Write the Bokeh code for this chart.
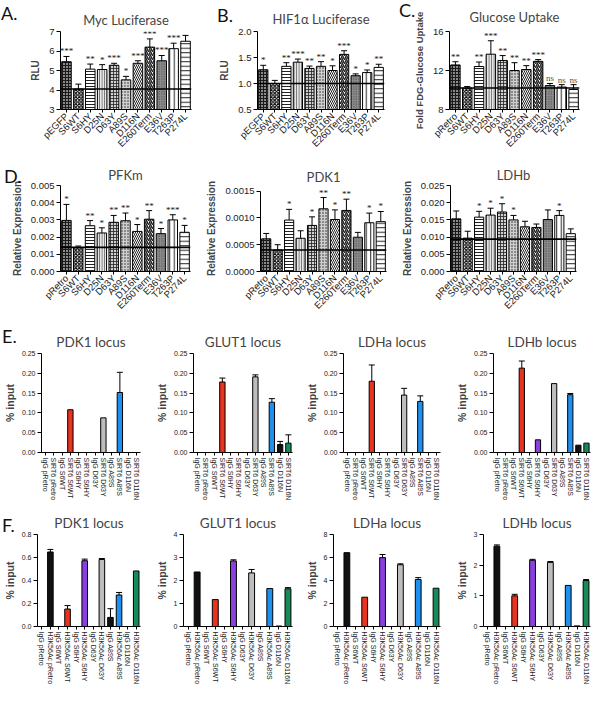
import math
from bokeh.plotting import figure
from bokeh.layouts import row, column
from bokeh.models import (ColumnDataSource, Whisker, TeeHead, Span, LabelSet, Div,
                          FactorRange, Range1d, FixedTicker, NumeralTickFormatter)
from bokeh.embed import file_html
from bokeh.resources import INLINE

# ---------------- data ----------------
samples_egfp = ["pEGFP", "S6WT", "S6HY", "D25N", "D63Y", "A89S", "D116N", "E260Term", "E36V", "T263P", "P274L"]
samples_retro = ["pRetro", "S6WT", "S6HY", "D25N", "D63Y", "A89S", "D116N", "E260Term", "E36V", "T263P", "P274L"]

myc_rlu = [5.45, 4.05, 5.07, 5.05, 5.27, 4.52, 5.37, 6.2, 5.5, 6.12, 6.5]
myc_err = [0.27, 0.25, 0.26, 0.25, 0.1, 0.18, 0.13, 0.42, 0.27, 0.28, 0.3]
myc_sig = ["***", "", "**", "*", "***", "*", "***", "***", "***", "***", "***"]
myc_ref = 4.05
myc_ticks = [3, 4, 5, 6, 7]

hif_rlu = [1.265, 1.0, 1.33, 1.41, 1.29, 1.33, 1.25, 1.56, 1.15, 1.21, 1.31]
hif_err = [0.085, 0.06, 0.07, 0.06, 0.045, 0.09, 0.09, 0.07, 0.035, 0.05, 0.06]
hif_sig = ["*", "", "**", "***", "**", "**", "*", "***", "*", "*", "**"]
hif_ref = 1.0
hif_ticks = [0.5, 1.0, 1.5, 2.0]

glu_fold = [12.57, 10.2, 12.41, 13.67, 13.03, 12.0, 12.1, 12.94, 10.45, 10.3, 10.05]
glu_err = [0.33, 0.16, 0.46, 1.38, 0.5, 0.8, 0.4, 0.18, 0.22, 0.25, 0.5]
glu_sig = ["**", "", "**", "***", "**", "**", "**", "***", "ns", "ns", "ns"]
glu_ref = 10.2
glu_ticks = [8, 12, 16]

pfkm_expr = [0.00297, 0.00138, 0.00266, 0.00224, 0.00286, 0.00295, 0.00233, 0.00304, 0.0022, 0.0030, 0.00228]
pfkm_err = [0.00093, 0.0001, 0.0003, 0.0003, 0.0004, 0.00045, 0.0004, 0.0005, 0.0003, 0.0003, 0.0004]
pfkm_sig = ["*", "", "**", "*", "**", "**", "*", "**", "*", "***", "*"]
pfkm_ref = 0.0014
pfkm_ticks = [0.0, 0.001, 0.002, 0.003, 0.004, 0.005]

pdk1_expr = [0.00061, 0.0004, 0.00096, 0.00062, 0.00086, 0.00117, 0.00097, 0.00114, 0.00064, 0.00091, 0.00093]
pdk1_err = [0.0001, 0.0001, 0.0002, 0.00014, 0.00016, 0.00021, 0.00018, 0.00021, 0.00009, 0.00018, 0.00019]
pdk1_sig = ["", "", "*", "", "*", "**", "*", "**", "", "*", "*"]
pdk1_ref = 0.0004
pdk1_ticks = [0.0, 0.0005, 0.001, 0.0015]

ldhb_expr = [0.0153, 0.0097, 0.0158, 0.0164, 0.0173, 0.0150, 0.0130, 0.0128, 0.0151, 0.0163, 0.0110]
ldhb_err = [0.0023, 0.0020, 0.0017, 0.0020, 0.0024, 0.0013, 0.0016, 0.0010, 0.0028, 0.0014, 0.0014]
ldhb_sig = ["", "", "*", "*", "*", "*", "", "", "", "*", ""]
ldhb_ref = 0.0094
ldhb_ticks = [0.0, 0.005, 0.010, 0.015, 0.020, 0.025]

chip_sirt6 = ["IgG pRetro", "SIRT6 pRetro", "IgG S6WT", "SIRT6 S6WT", "IgG S6HY", "SIRT6 S6HY",
              "IgG D63Y", "SIRT6 D63Y", "IgG A89S", "SIRT6 A89S", "IgG D116N", "SIRT6 D116N"]
chip_h3k56 = ["IgG pRetro", "H3K56Ac pRetro", "IgG S6WT", "H3K56Ac S6WT", "IgG S6HY", "H3K56Ac S6HY",
              "IgG D63Y", "H3K56Ac D63Y", "IgG A89S", "H3K56Ac A89S", "IgG D116N", "H3K56Ac D116N"]

e_pdk1 = [0, 0, 0, 0.108, 0, 0, 0, 0.0875, 0, 0.1515, 0, 0]
e_pdk1_err = [0, 0, 0, 0, 0, 0, 0, 0, 0, 0.051, 0, 0]
e_glut1 = [0, 0, 0, 0.178, 0, 0, 0, 0.191, 0, 0.127, 0.020, 0.0236]
e_glut1_err = [0, 0, 0, 0.01, 0, 0, 0, 0.005, 0, 0.009, 0.008, 0.021]
e_ldha = [0, 0, 0, 0.18, 0, 0, 0, 0.145, 0, 0.129, 0, 0]
e_ldha_err = [0, 0, 0, 0.041, 0, 0, 0, 0.017, 0, 0.014, 0, 0]
e_ldhb = [0, 0, 0, 0.213, 0, 0.032, 0, 0.174, 0, 0.146, 0.0185, 0.0236]
e_ldhb_err = [0, 0, 0, 0.018, 0, 0, 0, 0, 0, 0.003, 0, 0]
e_ticks = [0.0, 0.05, 0.10, 0.15, 0.20, 0.25]

f_pdk1 = [0, 0.648, 0, 0.152, 0, 0.572, 0, 0.583, 0.079, 0.274, 0, 0.483]
f_pdk1_err = [0, 0.022, 0, 0.03, 0, 0.014, 0, 0.008, 0.076, 0.022, 0, 0]
f_pdk1_ticks = [0.0, 0.2, 0.4, 0.6, 0.8]
f_glut1 = [0, 2.37, 0, 1.17, 0, 2.85, 0, 2.33, 0, 1.65, 0.02, 1.64]
f_glut1_err = [0, 0, 0, 0, 0, 0.05, 0, 0.15, 0, 0, 0, 0.05]
f_glut1_ticks = [0, 1, 2, 3, 4]
f_ldha = [0, 6.42, 0, 2.55, 0, 5.99, 0, 5.37, 0, 4.09, 0, 3.33]
f_ldha_err = [0, 0, 0, 0, 0, 0.27, 0, 0.08, 0, 0.16, 0, 0]
f_ldha_ticks = [0, 2, 4, 6, 8]
f_ldhb = [0, 2.62, 0, 1.0, 0, 2.16, 0, 2.09, 0, 1.34, 0.02, 1.5]
f_ldhb_err = [0, 0.04, 0, 0.05, 0, 0.03, 0, 0.03, 0, 0, 0, 0.03]
f_ldhb_ticks = [0, 1, 2, 3]

panel_letters = ["A.", "B.", "C.", "D.", "E.", "F."]

# ---------------- styles ----------------
FONT = "Liberation Sans"
TFONT = "Lato"
HATCH = [
    ("#8a8a8a", "cross", 3.0, 1.0, "#1a1a1a"),
    ("#ffffff", "diagonal_cross", 3.5, 1.3, "#111111"),
    ("#ffffff", "horizontal_line", 3.0, 1.0, "#222222"),
    ("#e6e6e6", "vertical_line", 2.5, 0.7, "#333333"),
    ("#d0d0d0", "cross", 3.0, 0.8, "#222222"),
    ("#cfcfcf", "dot", 3.0, 1.0, "#222222"),
    ("#ffffff", "left_diagonal_line", 4.0, 1.0, "#222222"),
    ("#ffffff", "right_diagonal_line", 4.0, 1.5, "#222222"),
    ("#8c8c8c", "dot", 2.5, 1.0, "#444444"),
    ("#ffffff", "vertical_line", 4.5, 1.0, "#222222"),
    ("#ffffff", "horizontal_line", 4.5, 1.0, "#222222"),
]
RED, PURPLE, GREY, BLUE, GREEN, BLACK = "#e8331e", "#8b3fe0", "#bdbdbd", "#1f8ff0", "#178a5a", "#111111"
CHIP_COLORS = [BLACK, BLACK, BLACK, RED, BLACK, PURPLE, BLACK, GREY, BLACK, BLUE, BLACK, GREEN]
LETTER_POS = [(-4, -1), (212, 1), (394, -4), (-1, 162), (-3, 322), (-3, 511)]


def make_panel(cats, vals, errs, sig, ticks, fmt, ylabel, title, w, h, bl, br, bt, bb,
               standoff, kind, ref=None, tick_size="9.5px", xlab_size="9.5px",
               ylab_size="10px", title_size="13px", ylab_standoff=5, headroom=0.0):
    y0, y1 = ticks[0], ticks[-1]
    p = figure(x_range=FactorRange(factors=cats), y_range=Range1d(y0, y1 + headroom * (y1 - y0)),
               width=w, height=h, min_border_left=bl, min_border_right=br,
               min_border_top=bt, min_border_bottom=bb,
               toolbar_location=None, output_backend="svg", title=title)
    p.title.text_font = TFONT
    p.title.text_font_size = title_size
    p.title.text_font_style = "normal"
    p.title.align = "center"
    p.title.standoff = standoff
    p.outline_line_color = None
    p.xgrid.visible = False
    p.ygrid.visible = False

    n = len(cats)
    data = dict(x=cats, top=vals, bottom=[y0] * n)
    if kind == "hatch":
        data["fill"] = [s[0] for s in HATCH]
        data["hatch"] = [s[1] for s in HATCH]
        data["hscale"] = [s[2] for s in HATCH]
        data["hweight"] = [s[3] for s in HATCH]
        data["hcolor"] = [s[4] for s in HATCH]
        src = ColumnDataSource(data)
        p.vbar(x="x", top="top", bottom="bottom", width=0.8, source=src,
               fill_color="fill", hatch_pattern="hatch", hatch_scale="hscale",
               hatch_weight="hweight", hatch_color="hcolor",
               line_color="black", line_width=1)
    else:
        data["fill"] = CHIP_COLORS
        src = ColumnDataSource(data)
        p.vbar(x="x", top="top", bottom="bottom", width=0.65, source=src,
               fill_color="fill", line_color="black", line_width=1)

    idx = [i for i, e in enumerate(errs) if e > 0]
    if idx:
        wsrc = ColumnDataSource(dict(x=[cats[i] for i in idx],
                                     lower=[vals[i] for i in idx],
                                     upper=[vals[i] + errs[i] for i in idx]))
        p.add_layout(Whisker(source=wsrc, base="x", lower="lower", upper="upper",
                             dimension="height", line_color="black", line_width=1,
                             upper_head=TeeHead(size=6, line_color="black", line_width=1),
                             lower_head=None, level="overlay"))
    if ref is not None:
        p.add_layout(Span(location=ref, dimension="width", line_color="black", line_width=1.6))
    if sig is not None:
        ssrc = ColumnDataSource(dict(x=cats, y=[v + e for v, e in zip(vals, errs)],
                                     t=sig, c=["#555555" if s == "ns" else "#111111" for s in sig]))
        p.add_layout(LabelSet(x="x", y="y", text="t", source=ssrc, text_align="center",
                              text_baseline="bottom", y_offset=0, text_font=FONT,
                              text_font_size="9px", text_color="c"))

    ya = p.yaxis[0]
    ya.ticker = FixedTicker(ticks=ticks)
    ya.formatter = NumeralTickFormatter(format=fmt)
    ya.bounds = (y0, y1)
    ya.minor_tick_line_color = None
    ya.major_tick_in = 0
    ya.major_tick_out = 4
    ya.axis_line_color = "black"
    ya.major_tick_line_color = "black"
    ya.major_label_text_font = FONT
    ya.major_label_text_font_size = tick_size
    ya.major_label_text_color = "#222222"
    ya.major_label_standoff = 2
    ya.axis_label = ylabel
    ya.axis_label_text_font = FONT
    ya.axis_label_text_font_style = "bold"
    ya.axis_label_text_font_size = ylab_size
    ya.axis_label_standoff = ylab_standoff

    xa = p.xaxis[0]
    xa.major_label_orientation = math.pi / 4 if kind == "hatch" else "vertical"
    xa.major_label_text_font = FONT
    xa.major_label_text_font_size = xlab_size
    xa.major_label_text_color = "#222222"
    xa.major_label_standoff = 2
    xa.major_tick_in = 0
    xa.major_tick_out = 3
    xa.minor_tick_line_color = None
    xa.axis_line_color = "black"
    return p


# ---------------- row 1 ----------------
H1 = 157
pa = make_panel(samples_egfp, myc_rlu, myc_err, myc_sig, myc_ticks, "0", "RLU", "Myc Luciferase",
                192, H1, 60, 1, 21, 48, 7, "hatch", ref=myc_ref)
pb = make_panel(samples_egfp, hif_rlu, hif_err, hif_sig, hif_ticks, "0.0", "RLU", "HIF1α Luciferase",
                195, H1, 65, 3, 26, 44, 10, "hatch", ref=hif_ref)
pc = make_panel(samples_retro, glu_fold, glu_err, glu_sig, glu_ticks, "0", "Fold FDG-Glucose Uptake",
                "Glucose Uptake", 204, H1, 62, 12, 29, 44, 13, "hatch", ref=glu_ref, ylab_size="9.5px")

# ---------------- row 2 ----------------
H2 = 160
pd1 = make_panel(samples_retro, pfkm_expr, pfkm_err, pfkm_sig, pfkm_ticks, "0.000", "Relative Expression",
                 "PFKm", 192, H2, 60, 2, 28, 44, 6, "hatch", ref=pfkm_ref)
pd2 = make_panel(samples_retro, pdk1_expr, pdk1_err, pdk1_sig, pdk1_ticks, "0.0000", "Relative Expression",
                 "PDK1", 195, H2, 68, 1, 22, 44, 2, "hatch", ref=pdk1_ref, headroom=0.07)
pd3 = make_panel(samples_retro, ldhb_expr, ldhb_err, ldhb_sig, ldhb_ticks, "0.000", "Relative Expression",
                 "LDHb", 204, H2, 63, 15, 28, 44, 6, "hatch", ref=ldhb_ref)

# ---------------- row 3 ----------------
H3 = 190
chip_kw = dict(tick_size="7px", xlab_size="7px", ylab_size="10.5px", title_size="13.5px", ylab_standoff=3)
pe1 = make_panel(chip_sirt6, e_pdk1, e_pdk1_err, None, e_ticks, "0.00", "% input", "PDK1 locus",
                 152, H3, 31, 12, 36, 55, 8, "chip", **chip_kw)
pe2 = make_panel(chip_sirt6, e_glut1, e_glut1_err, None, e_ticks, "0.00", "% input", "GLUT1 locus",
                 150, H3, 30, 10, 36, 55, 8, "chip", **chip_kw)
pe3 = make_panel(chip_sirt6, e_ldha, e_ldha_err, None, e_ticks, "0.00", "% input", "LDHa locus",
                 150, H3, 31, 12, 36, 55, 8, "chip", **chip_kw)
pe4 = make_panel(chip_sirt6, e_ldhb, e_ldhb_err, None, e_ticks, "0.00", "% input", "LDHb locus",
                 139, H3, 30, 1, 36, 55, 8, "chip", **chip_kw)

# ---------------- row 4 ----------------
H4 = 180
pf1 = make_panel(chip_h3k56, f_pdk1, f_pdk1_err, None, f_pdk1_ticks, "0.0", "% input", "PDK1 locus",
                 152, H4, 31, 12, 27, 53, 7, "chip", **chip_kw)
pf2 = make_panel(chip_h3k56, f_glut1, f_glut1_err, None, f_glut1_ticks, "0", "% input", "GLUT1 locus",
                 150, H4, 30, 10, 27, 53, 7, "chip", **chip_kw)
pf3 = make_panel(chip_h3k56, f_ldha, f_ldha_err, None, f_ldha_ticks, "0", "% input", "LDHa locus",
                 150, H4, 31, 12, 27, 53, 7, "chip", **chip_kw)
pf4 = make_panel(chip_h3k56, f_ldhb, f_ldhb_err, None, f_ldhb_ticks, "0", "% input", "LDHb locus",
                 139, H4, 30, 1, 27, 53, 7, "chip", **chip_kw)

# ---------------- panel letters (overlay) ----------------
spans = "".join(
    f'<span style="position:absolute; left:{x}px; top:{y}px; font-family:Lato; font-size:18px; '
    f'line-height:18px; color:#111111; white-space:nowrap;">{t}</span>'
    for t, (x, y) in zip(panel_letters, LETTER_POS))
letters = Div(text=spans, width=1, height=1,
              styles={"position": "absolute", "left": "0px", "top": "0px", "z-index": "10",
                      "overflow": "visible", "pointer-events": "none"},
              stylesheets=[":host { position: absolute !important; left: 0px !important; top: 0px !important; "
                           "overflow: visible !important; z-index: 10; }"])

layout = column(row(pa, pb, pc), row(pd1, pd2, pd3), row(pe1, pe2, pe3, pe4), row(pf1, pf2, pf3, pf4),
                letters)

open("out.html", "w").write(file_html(layout, INLINE))
